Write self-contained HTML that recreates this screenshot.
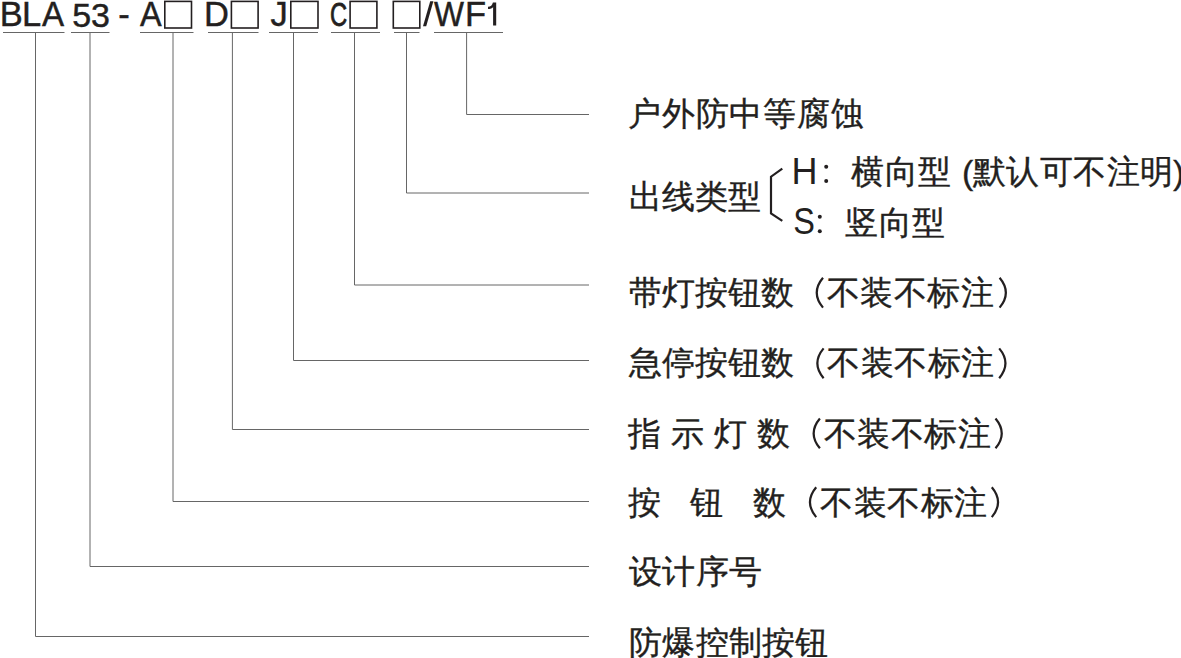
<!DOCTYPE html>
<html><head><meta charset="utf-8">
<style>
html,body{margin:0;padding:0;background:#fff;}
body{width:1181px;height:658px;position:relative;overflow:hidden;font-family:"Liberation Sans",sans-serif;color:#231f20;}
.t{position:absolute;white-space:nowrap;line-height:1;}
.m{font-size:34.5px;top:-3px;-webkit-text-stroke:0.45px #231f20;}
.box{position:absolute;border:1.4px solid #231f20;box-sizing:border-box;}
.c{font-size:33px;-webkit-text-stroke:0.35px #231f20;}
.l{font-size:36px;}
.p{letter-spacing:0.6px;}
svg{position:absolute;left:0;top:0;}
</style></head><body>
<svg width="1181" height="658" viewBox="0 0 1181 658">
<g stroke="#666" stroke-width="1" fill="none">
<path d="M3 32.5H64.5M71 32.5H109.5M140 32.5H193.5M208 32.5H258.5M269 32.5H318M331 32.5H380M394 32.5H419.5M434 32.5H503"/>
<path d="M35.5 33V636.5H589"/>
<path d="M90 33V566.5H589"/>
<path d="M173 33V501.5H589"/>
<path d="M232.4 33V429.5H589"/>
<path d="M293.5 33V360.5H589"/>
<path d="M354.5 33V285H589"/>
<path d="M406.5 33V193H589"/>
<path d="M466.6 33V114.5H589"/>
</g>
<path d="M782.3 168.6L771 176.7V213.3L782.3 220.9" stroke="#231f20" stroke-width="2.2" fill="none"/>
<path d="M823.0 277.8Q810.5 292.7 823.0 307.6M999.6 277.8Q1012.1 292.7 999.6 307.6M823.6 348.4Q811.1 363.3 823.6 378.2M999.2 348.4Q1011.7 363.3 999.2 378.2M819.9 418.5Q807.4 433.4 819.9 448.3M995.5 418.5Q1008.0 433.4 995.5 448.3M816.2 487.3Q803.7 502.2 816.2 517.1M991.8 487.3Q1004.3 502.2 991.8 517.1" stroke="#231f20" stroke-width="2.2" fill="none"/>
<g fill="#231f20"><circle cx="826.2" cy="166.7" r="2"/><circle cx="826.2" cy="181.1" r="2"/><circle cx="819.8" cy="216.7" r="2"/><circle cx="819.8" cy="231.3" r="2"/></g>
<path d="M430.2 1.2H433.4L426.2 26.2H423Z" fill="#231f20"/>
<path d="M496.2 2.4V25.6H493.1V7C492.1 8.4 490.5 9.1 488 9.1V6.8C490.6 6.8 492.3 5.2 492.9 2.4Z" fill="#231f20"/>
<g stroke="#231f20" stroke-width="1.6" fill="none"><rect x="164.80" y="1.40" width="26.70" height="26.60"/><rect x="231.40" y="1.40" width="26.70" height="26.60"/><rect x="290.80" y="1.40" width="27.20" height="26.60"/><rect x="350.10" y="1.40" width="26.80" height="26.60"/><rect x="393.30" y="1.40" width="26.50" height="26.60"/></g>
</svg>
<div class="t m" style="left:-0.3px">B</div>
<div class="t m" style="left:22px">L</div>
<div class="t m" style="left:41.7px;transform:scaleX(0.96);transform-origin:0 0">A</div>
<div class="t m" style="left:72.3px;top:-2.5px;font-size:34px">5</div>
<div class="t m" style="left:90.9px;top:-2.5px;font-size:34px">3</div>
<div class="t m" style="left:118.3px">-</div>
<div class="t m" style="left:139.8px;transform:scaleX(0.94);transform-origin:0 0">A</div>
<div class="t m" style="left:204px">D</div>
<div class="t m" style="left:270.4px">J</div>
<div class="t m" style="left:330px;transform:scaleX(0.72);transform-origin:0 0;top:-2px;font-size:33px;-webkit-text-stroke:0.8px #231f20">C</div>

<div class="t m" style="left:434px;transform:scaleX(0.92);transform-origin:0 0">W</div>
<div class="t m" style="left:465px">F</div>


<div class="t c" style="left:628px;top:97px;letter-spacing:0.8px">户外防中等腐蚀</div>
<div class="t c" style="left:629px;top:180px">出线类型</div>
<div class="t l" style="left:791.5px;top:153.5px">H</div>
<div class="t c p" style="left:851px;top:155px">横向型</div>
<div class="t c" style="left:962px;top:155px;font-size:34px">(</div>
<div class="t c p" style="left:972.5px;top:155px">默认可不注明</div>
<div class="t c" style="left:1173px;top:155px;font-size:34px">)</div>
<div class="t l" style="left:792.5px;top:203.5px;transform:scaleX(0.9);transform-origin:2px 0">S</div>
<div class="t c p" style="left:845px;top:206px">竖向型</div>
<div class="t c" style="left:629px;top:276px">带灯按钮数</div>
<div class="t c p" style="left:826.5px;top:276px">不装不标注</div>
<div class="t c" style="left:629px;top:346px">急停按钮数</div>
<div class="t c p" style="left:827.1px;top:346px">不装不标注</div>
<div class="t c" style="left:628px;top:417px">指</div>
<div class="t c" style="left:671px;top:417px">示</div>
<div class="t c" style="left:714px;top:417px">灯</div>
<div class="t c" style="left:757px;top:417px">数</div>
<div class="t c p" style="left:823.6px;top:417px">不装不标注</div>
<div class="t c" style="left:628px;top:486px">按</div>
<div class="t c" style="left:690px;top:486px">钮</div>
<div class="t c" style="left:753px;top:486px">数</div>
<div class="t c p" style="left:820.1px;top:486px">不装不标注</div>
<div class="t c" style="left:628.5px;top:555px;letter-spacing:0.5px">设计序号</div>
<div class="t c" style="left:629px;top:626px;letter-spacing:0.3px">防爆控制按钮</div>
</body></html>
